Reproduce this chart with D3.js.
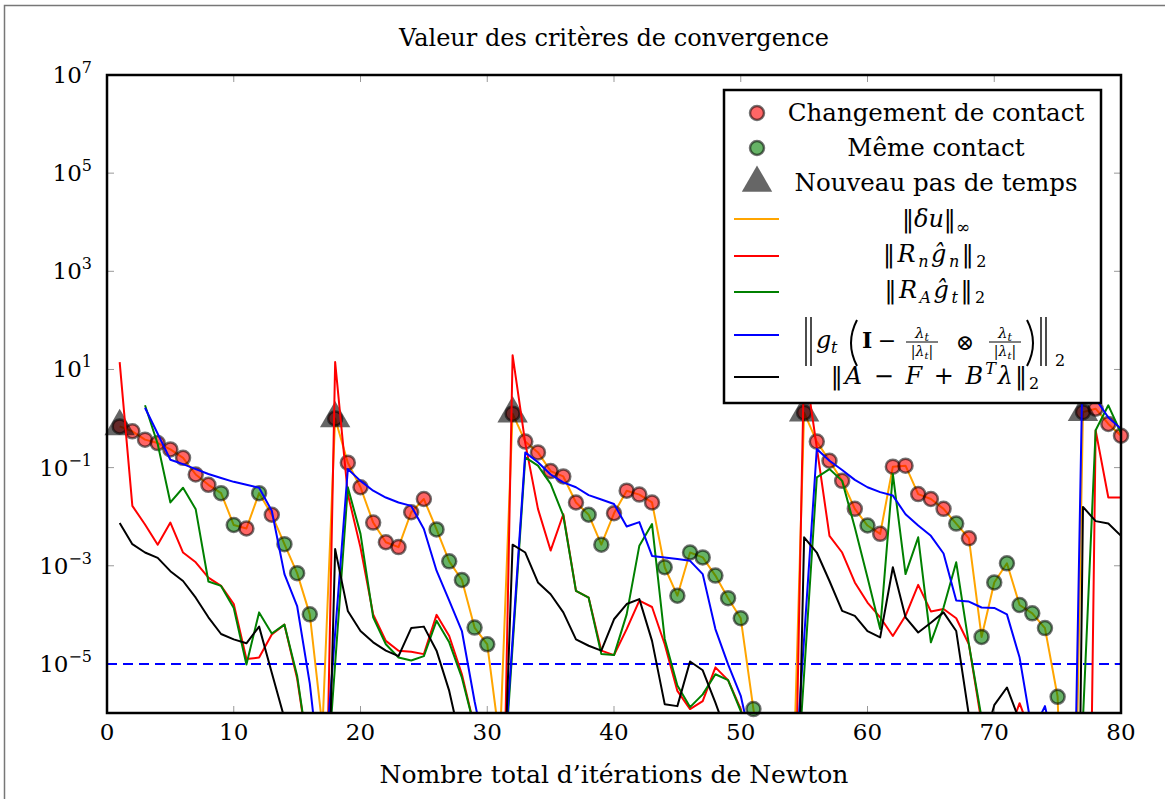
<!DOCTYPE html>
<html>
<head>
<meta charset="utf-8">
<script src="https://cdn.jsdelivr.net/npm/d3@7"></script>
<style>
body { margin: 0; background: #fff; }
svg text { font-family: "DejaVu Serif", serif; fill: #000; }
</style>
</head>
<body>
<script>
var width = 1165;
var height = 799;
var margin = { top: 75, right: 44, bottom: 86, left: 107 };

// iteration number (x axis)
var iterations = d3.range(1, 81);

// log10 of each criterion (null = not plotted at that iteration)
var deltaULog = [
    -0.16, -0.26, -0.43, -0.50, -0.63, -0.80, -1.14, -1.35, -1.52, -2.17,
    -2.24, -1.52, -1.96, -2.56, -3.15, -3.99, -6.3, 0.00, -0.90, -1.40,
    -2.12, -2.52, -2.62, -1.91, -1.64, -2.26, -2.91, -3.29, -4.26, -4.60,
    -6.6, 0.10, -0.47, -0.69, -1.07, -1.18, -1.71, -1.96, -2.57, -1.93,
    -1.47, -1.55, -1.71, -3.03, -3.61, -2.73, -2.83, -3.20, -3.66, -4.07,
    -5.92, -7.5, -8.0, -8.7, 0.12, -0.47, -0.86, -1.27, -1.84, -2.18,
    -2.35, -0.98, -0.96, -1.54, -1.64, -1.84, -2.14, -2.44, -4.45, -3.34,
    -2.95, -3.80, -3.97, -4.27, -5.67, -14, 0.13, 0.20, -0.11, -0.35
];
var rnLog = [
    1.15, -1.78, -2.16, -2.57, -2.12, -2.73, -2.93, -3.24, -3.41, -3.78,
    -4.90, -4.87, -4.40, -4.20, -5.3, -7, -12, 1.15, -1.54, -2.63,
    -3.99, -4.53, -4.73, -4.75, -4.80, -4.00, -4.43, -5.21, -6.3, -7.5,
    -12, 1.29, -0.50, -1.84, -2.69, -1.95, -3.51, -3.65, -4.73, -4.82,
    -4.29, -3.71, -3.84, -4.60, -5.55, -5.92, -5.76, -5.07, -5.33, -5.92,
    -7, -9, -10, -12, 1.2, -0.59, -2.39, -2.73, -3.34, -3.75,
    -4.05, -4.43, -4.02, -3.39, -3.93, -3.88, -4.07, -4.60, -6.2, -7,
    -6.5, -5.8, -6.5, -8, -10, -12, -20, -0.24, -1.61, -1.61
];
var raLog = [
    null, null, 0.27, -0.52, -1.71, -1.41, -1.85, -3.32, -3.41, -3.86,
    -5.01, -3.95, -4.38, -4.20, -5.24, -7, -8.6, null, -1.40, -2.35,
    -4.05, -4.60, -4.87, -4.93, -4.84, -4.12, -4.56, -5.28, -6.3, -7.5,
    -8.5, null, -0.79, -0.96, -1.33, -1.98, -3.51, -3.65, -4.80, -4.82,
    -3.99, -2.59, -2.15, -4.49, -5.44, -5.88, -5.62, -5.21, -5.33, -5.96,
    -7, -8, -8.5, -9.2, null, -1.20, -1.03, -1.27, -2.22, -3.24,
    -4.29, -1.13, -3.17, -2.42, -4.56, -3.85, -2.93, -4.60, -6.1, -7,
    -8, -8, -9, -10, -11, -12, null, -0.24, 0.27, -0.30
];
var gtLog = [
    null, null, 0.22, -0.31, -0.84, -0.93, -1.03, -1.13, -1.21, -1.29,
    -1.35, -1.41, -1.88, -3.17, -3.82, -5.4, -7.7, null, -1.03, -1.27,
    -1.47, -1.61, -1.71, -1.78, -2.25, -3.10, -3.71, -4.33, -5.76, -7,
    -8.3, null, -0.69, -0.89, -1.14, -1.30, -1.40, -1.56, -1.65, -1.74,
    -2.20, -2.11, -2.80, -2.83, -2.86, -2.90, -3.17, -4.29, -5.01, -5.65,
    -6.8, -8, -8, -8.33, null, -0.62, -0.86, -1.05, -1.25, -1.40,
    -1.50, -1.57, -1.95, -2.18, -2.39, -2.75, -3.71, -3.73, -3.85, -3.86,
    -3.99, -4.87, -6.4, -5.86, -7, -12.6, 1.5, 0.4, 0.02, -0.21
];
var equilLog = [
    -2.13, -2.56, -2.73, -2.84, -3.11, -3.31, -3.65, -4.05, -4.39, -4.50,
    -4.58, -4.24, -5.18, -6.11, -7, -8, -12.3, -2.66, -3.92, -4.33,
    -4.56, -4.73, -4.84, -4.27, -4.24, -4.73, -5.55, -6.7, -7.5, -9,
    -10, -2.57, -2.73, -3.34, -3.58, -3.95, -4.50, -4.63, -4.73, -4.09,
    -3.78, -3.68, -4.53, -5.82, -5.86, -4.95, -5.13, -5.79, -6.5, -8,
    -9, -10, -12, -14, -2.42, -2.73, -3.31, -3.92, -4.02, -4.33,
    -4.46, -3.03, -4.05, -4.36, -4.16, -3.95, -4.33, -6.05, -6.76, -5.84,
    -5.48, -6.16, -8, -10, -12, -23, -1.80, -2.09, -2.14, -2.39
];

// C = changement de contact, M = meme contact, - = no marker
var contactState = (
    'CCCCCCCCMM' + 'CMCMMM-CCC' + 'CCCCCMMMMM' + '-CCCCCCMMC' +
    'CCCMMMMMMM' + 'M---CCCCCM' + 'CCCCCCMCMM' + 'MMMMM-CCCC').split('');
var newStep = [1, 18, 32, 55, 77];
var tolerance = 1e-5;

var xTicks = [0, 10, 20, 30, 40, 50, 60, 70, 80];
var yTickExps = [-5, -3, -1, 1, 3, 5, 7];

var seriesColors = {
    du: 'orange', rn: '#ff0000', ra: '#008000', gt: '#0000ff', eq: '#000000'
};

var svg = d3.select('body').append('svg')
    .attr('width', width)
    .attr('height', height);

// outer frame of the figure
svg.append('rect')
    .attr('x', 4.5).attr('y', 5.5)
    .attr('width', 1175).attr('height', 810)
    .attr('fill', 'none')
    .attr('stroke', '#777')
    .attr('stroke-width', 1.5);

var x = d3.scaleLinear()
    .domain([0, 80])
    .range([margin.left, width - margin.right]);

var y = d3.scaleLog()
    .domain([1e-6, 1e7])
    .range([height - margin.bottom, margin.top]);

function pow10(e) { return Math.pow(10, e); }

svg.append('clipPath').attr('id', 'plot-clip')
    .append('rect')
    .attr('x', margin.left).attr('y', margin.top)
    .attr('width', x(80) - x(0)).attr('height', y(1e-6) - y(1e7));

// ticks (inward, both sides)
var tickColor = '#999';
xTicks.slice(1, -1).forEach(function(t) {
    svg.append('line').attr('x1', x(t)).attr('x2', x(t))
        .attr('y1', y(1e-6)).attr('y2', y(1e-6) - 7)
        .attr('stroke', tickColor).attr('stroke-width', 1);
    svg.append('line').attr('x1', x(t)).attr('x2', x(t))
        .attr('y1', y(1e7)).attr('y2', y(1e7) + 7)
        .attr('stroke', tickColor).attr('stroke-width', 1);
});
yTickExps.slice(0, -1).forEach(function(e) {
    svg.append('line').attr('x1', x(0)).attr('x2', x(0) + 7)
        .attr('y1', y(pow10(e))).attr('y2', y(pow10(e)))
        .attr('stroke', tickColor).attr('stroke-width', 1);
    svg.append('line').attr('x1', x(80)).attr('x2', x(80) - 7)
        .attr('y1', y(pow10(e))).attr('y2', y(pow10(e)))
        .attr('stroke', tickColor).attr('stroke-width', 1);
});

// tick labels
svg.selectAll('.xlab')
    .data(xTicks)
    .enter()
    .append('text')
    .attr('class', 'xlab')
    .attr('x', function(d) { return x(d); })
    .attr('y', 740)
    .attr('text-anchor', 'middle')
    .attr('font-size', 23)
    .text(function(d) { return d; });

var ylab = svg.selectAll('.ylab')
    .data(yTickExps)
    .enter()
    .append('text')
    .attr('class', 'ylab')
    .attr('x', 92)
    .attr('y', function(d) { return y(pow10(d)) + 8; })
    .attr('text-anchor', 'end')
    .attr('font-size', 23);
ylab.append('tspan').text('10');
ylab.append('tspan')
    .attr('font-size', 16)
    .attr('dy', -10)
    .text(function(d) { return d < 0 ? '\u2212' + (-d) : d; });

// title and axis label
svg.append('text')
    .attr('x', (x(0) + x(80)) / 2).attr('y', 46)
    .attr('text-anchor', 'middle').attr('font-size', 24)
    .text('Valeur des crit\u00e8res de convergence');
svg.append('text')
    .attr('x', (x(0) + x(80)) / 2).attr('y', 783)
    .attr('text-anchor', 'middle').attr('font-size', 25)
    .text('Nombre total d\u2019it\u00e9rations de Newton');

var plot = svg.append('g').attr('clip-path', 'url(#plot-clip)');

// tolerance line
plot.append('line')
    .attr('x1', x(0)).attr('x2', x(80))
    .attr('y1', y(tolerance)).attr('y2', y(tolerance))
    .attr('stroke', '#0000ff')
    .attr('stroke-width', 2)
    .attr('stroke-dasharray', '10,6');

var line = d3.line()
    .x(function(d) { return x(d.it); })
    .y(function(d) { return y(pow10(d.e)); });

function points(arr) {
    return iterations.map(function(it, i) { return { it: it, e: arr[i] }; })
        .filter(function(d) { return d.e !== null; });
}

function drawLine(g, arr, color) {
    g.append('path')
        .datum(points(arr))
        .attr('fill', 'none')
        .attr('stroke', color)
        .attr('stroke-width', 2)
        .attr('stroke-linejoin', 'round')
        .attr('d', line);
}

drawLine(plot, deltaULog, seriesColors.du);

// contact markers
var markers = iterations.map(function(it, i) {
    return { it: it, e: deltaULog[i], s: contactState[i] };
}).filter(function(d) { return d.s !== '-'; });

svg.selectAll('.mark')
    .data(markers)
    .enter()
    .append('circle')
    .attr('class', 'mark')
    .attr('cx', function(d) { return x(d.it); })
    .attr('cy', function(d) { return y(pow10(d.e)); })
    .attr('r', 7)
    .attr('fill', function(d) { return d.s === 'C' ? '#ff0000' : '#008000'; })
    .attr('fill-opacity', 0.6)
    .attr('stroke', '#000')
    .attr('stroke-opacity', 0.55)
    .attr('stroke-width', 2.5);

var triangle = d3.symbol().type(d3.symbolTriangle).size(400);
svg.selectAll('.step')
    .data(newStep)
    .enter()
    .append('path')
    .attr('class', 'step')
    .attr('d', triangle)
    .attr('transform', function(d) {
        return 'translate(' + x(d) + ',' + y(pow10(deltaULog[d - 1])) + ')';
    })
    .attr('fill', '#000')
    .attr('fill-opacity', 0.6);

var plot2 = svg.append('g').attr('clip-path', 'url(#plot-clip)');
drawLine(plot2, rnLog, seriesColors.rn);
drawLine(plot2, raLog, seriesColors.ra);
drawLine(plot2, gtLog, seriesColors.gt);
drawLine(plot2, equilLog, seriesColors.eq);

// axis frame
svg.append('rect')
    .attr('x', x(0)).attr('y', y(1e7))
    .attr('width', x(80) - x(0)).attr('height', y(1e-6) - y(1e7))
    .attr('fill', 'none')
    .attr('stroke', '#000')
    .attr('stroke-width', 2.5);

// legend
var lg = svg.append('g');
lg.append('rect')
    .attr('x', 724).attr('y', 90)
    .attr('width', 377).attr('height', 313)
    .attr('fill', '#fff')
    .attr('stroke', '#000')
    .attr('stroke-width', 2.5);

var lx = 936;
lg.append('circle').attr('cx', 757).attr('cy', 113).attr('r', 7)
    .attr('fill', '#ff0000').attr('fill-opacity', 0.6)
    .attr('stroke', '#000').attr('stroke-opacity', 0.55).attr('stroke-width', 2.5);
lg.append('text').attr('x', lx).attr('y', 121).attr('text-anchor', 'middle')
    .attr('font-size', 24.5).text('Changement de contact');

lg.append('circle').attr('cx', 757).attr('cy', 148).attr('r', 7)
    .attr('fill', '#008000').attr('fill-opacity', 0.6)
    .attr('stroke', '#000').attr('stroke-opacity', 0.55).attr('stroke-width', 2.5);
lg.append('text').attr('x', lx).attr('y', 156).attr('text-anchor', 'middle')
    .attr('font-size', 24.5).text('M\u00eame contact');

lg.append('path').attr('d', triangle)
    .attr('transform', 'translate(757,183)')
    .attr('fill', '#000').attr('fill-opacity', 0.6);
lg.append('text').attr('x', lx).attr('y', 191).attr('text-anchor', 'middle')
    .attr('font-size', 24.5).text('Nouveau pas de temps');

function legendLine(yy, color) {
    lg.append('line').attr('x1', 734).attr('x2', 779)
        .attr('y1', yy).attr('y2', yy)
        .attr('stroke', color).attr('stroke-width', 2);
}
legendLine(219, seriesColors.du);
legendLine(256, seriesColors.rn);
legendLine(292, seriesColors.ra);
legendLine(335, seriesColors.gt);
legendLine(377, seriesColors.eq);

// math labels: pieces are [text, italic, size, dy]
function mathText(yy, pieces, spacing) {
    var t = lg.append('text').attr('x', lx).attr('y', yy)
        .attr('text-anchor', 'middle').attr('font-size', 24)
        .attr('letter-spacing', spacing || 0);
    pieces.forEach(function(p) {
        var s = t.append('tspan').text(p[0]);
        if (p[1]) s.attr('font-style', 'italic');
        if (p[2]) s.attr('font-size', p[2]);
        if (p[3]) s.attr('dy', p[3]);
    });
}
mathText(227, [['\u2016'], ['\u03b4u', 1], ['\u2016'], ['\u221e', 0, 17, 6]]);
mathText(262, [['\u2016'], ['R', 1], ['n', 1, 16, 5], ['g\u0302', 1, 24, -5],
    ['n', 1, 16, 5], ['\u2016', 0, 24, -5], ['2', 0, 16, 5]], 2.5);
mathText(298, [['\u2016'], ['R', 1], ['A', 1, 16, 5], ['g\u0302', 1, 24, -5],
    ['t', 1, 16, 5], ['\u2016', 0, 24, -5], ['2', 0, 16, 5]], 2.5);
mathText(384, [['\u2016'], ['A', 1], [' \u2212 '], ['F', 1], [' + '], ['B', 1],
    ['T', 1, 16, -10], ['\u03bb', 1, 24, 10], ['\u2016'], ['2', 0, 16, 5]], 2);

// blue entry: || g_t ( I - l/|l| (x) l/|l| ) ||_2
var fb = lg.append('g');
function dbar(x0) {
    [x0, x0 + 5].forEach(function(xx) {
        fb.append('line').attr('x1', xx).attr('x2', xx)
            .attr('y1', 317).attr('y2', 366)
            .attr('stroke', '#000').attr('stroke-width', 1.4);
    });
}
function frac(cx) {
    var n = fb.append('text').attr('x', cx).attr('y', 338)
        .attr('text-anchor', 'middle').attr('font-size', 15);
    n.append('tspan').attr('font-style', 'italic').text('\u03bb');
    n.append('tspan').attr('font-style', 'italic').attr('font-size', 11)
        .attr('dy', 3).text('t');
    fb.append('line').attr('x1', cx - 16).attr('x2', cx + 16)
        .attr('y1', 342).attr('y2', 342)
        .attr('stroke', '#000').attr('stroke-width', 1);
    var dn = fb.append('text').attr('x', cx).attr('y', 356)
        .attr('text-anchor', 'middle').attr('font-size', 14);
    dn.append('tspan').text('|');
    dn.append('tspan').attr('font-style', 'italic').text('\u03bb');
    dn.append('tspan').attr('font-style', 'italic').attr('font-size', 10)
        .attr('dy', 3).text('t');
    dn.append('tspan').attr('dy', -3).text('|');
}
dbar(806);
fb.append('text').attr('x', 816).attr('y', 348).attr('font-size', 24)
    .attr('font-style', 'italic').text('g');
fb.append('text').attr('x', 831).attr('y', 353).attr('font-size', 16)
    .attr('font-style', 'italic').text('t');
fb.append('path').attr('d', 'M857,320 Q845,343 857,366')
    .attr('fill', 'none').attr('stroke', '#000').attr('stroke-width', 2);
fb.append('text').attr('x', 862).attr('y', 348).attr('font-size', 22)
    .attr('font-weight', 'bold').text('I');
fb.append('text').attr('x', 887).attr('y', 348).attr('font-size', 22)
    .attr('text-anchor', 'middle').text('\u2212');
frac(922);
fb.append('text').attr('x', 965).attr('y', 350).attr('font-size', 22)
    .attr('text-anchor', 'middle').text('\u2297');
frac(1005);
fb.append('path').attr('d', 'M1027,320 Q1039,343 1027,366')
    .attr('fill', 'none').attr('stroke', '#000').attr('stroke-width', 2);
dbar(1041);
fb.append('text').attr('x', 1055).attr('y', 366).attr('font-size', 16).text('2');
</script>
</body>
</html>
